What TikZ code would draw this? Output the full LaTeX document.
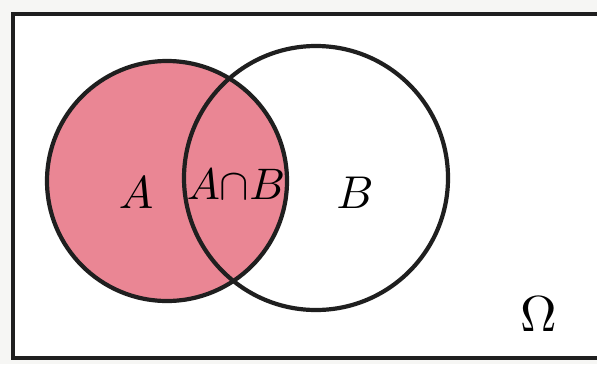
\documentclass[tikz,border=0pt]{standalone}
\usepackage{tikz}
\usetikzlibrary{calc}

\definecolor{setpink}{RGB}{234,134,148}
\definecolor{paper}{RGB}{246,246,244}

\begin{document}
\begin{tikzpicture}[
      x=0.5pt, y=-0.5pt,
      set/.style={draw=black!88, line width=2.1pt},
      lbl/.style={inner sep=0pt, scale=2.3},
    ]
    \useasboundingbox (0,0) rectangle (597,364);
    \clip (0,0) rectangle (597,364);
    \fill[paper] (0,0) rectangle (597,364);

    % sample space
    \draw[draw=black!88, line width=1.7pt, fill=white] (13,14) rectangle (610,358);

    % the two sets
    \fill[setpink] (167,181) circle (120);
    \draw[set] (167,181) circle (120);
    \draw[set] (316,178) circle (132);

    \node[lbl] (la) at (136,193) {$A$};
    \node[lbl, scale=0.96] (lab) at (236,184) {$A{\cap}B$};
    \node[lbl] (lb) at (355,193) {$B$};
    \node[lbl, scale=1.1] (om) at (539,314) {$\Omega$};
\end{tikzpicture}
\end{document}
